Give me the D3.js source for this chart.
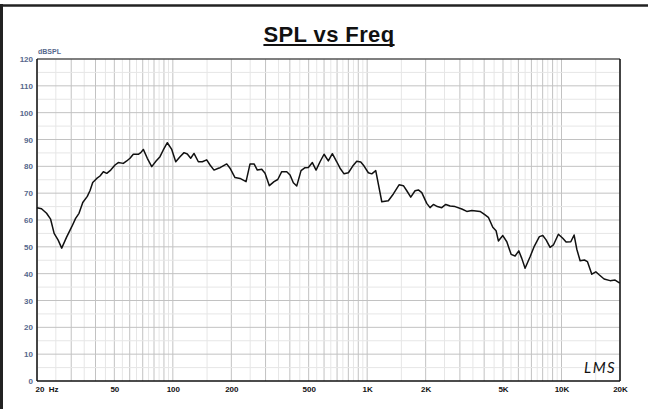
<!DOCTYPE html>
<html>
<head>
<meta charset="utf-8">
<script src="https://cdn.jsdelivr.net/npm/d3@7"></script>
<style>
  body { margin: 0; background: #fff; }
  svg { display: block; }
  .ylab text { font: bold 8px "Liberation Sans", Arial, sans-serif; fill: #56688c; }
  .xlab text { font: bold 8px "Liberation Sans", Arial, sans-serif; fill: #111; }
</style>
</head>
<body>
<svg width="648" height="409"></svg>
<script>
// measured response, freq in Hz
const freqs = [20, 21.1, 22.4, 23.5, 24.5, 25.7, 26.8, 28.4, 30.2, 31.6, 32.9, 34.4, 36.3, 37.5, 38.7,
  40.6, 42.2, 43.9, 45.7, 47.9, 50.4, 52.4, 55.6, 57.9, 60.2, 62.6, 66.4, 68.4, 70.5, 73.9, 77.9,
  82.0, 85.9, 89.3, 93.7, 98.7, 103.5, 108.9, 114.2, 118.7, 123.6, 128.5, 135.3, 141.8, 149.4,
  155.4, 162.9, 171.5, 175, 189.4, 196.9, 208.9, 221.7, 238.1, 249.6, 261.8, 272.2, 286.8, 298.2,
  313.8, 331.8, 346.7, 363.4, 385.6, 401, 417, 434.2, 456.8, 479, 498.2, 522.4, 545.8, 572.2, 600,
  631.2, 662, 697.4, 725.2, 760.4, 800.4, 843, 884, 927, 964, 1014, 1056, 1107, 1189, 1285, 1364,
  1459, 1536, 1599, 1676, 1764, 1834, 1910, 2026, 2106, 2192, 2298, 2420, 2538, 2672, 2834, 3068,
  3256, 3456, 3810, 3996, 4204, 4430, 4606, 4734, 4988, 5230, 5504, 5770, 6028, 6246, 6496, 6892,
  7252, 7694, 8012, 8332, 8736, 9086, 9638, 10152, 10560, 11166, 11612, 11990, 12468, 13118, 13592,
  14320, 15016, 15668, 16566, 17784, 18872, 19858, 20000];
const spl = [64.6, 64.2, 62.5, 60.3, 55, 52.5, 49.5, 53.6, 57.5, 60.6, 62.5, 66.5, 68.8, 71, 74,
  75.5, 76.4, 78, 77.4, 78.6, 80.5, 81.4, 81.1, 82, 83, 84.5, 84.5, 85.1, 86.3, 83, 79.9,
  82, 83.6, 86.1, 88.8, 86.3, 81.7, 83.6, 85.1, 84.6, 83, 84.8, 81.7, 81.7, 82.4,
  80.5, 78.6, 79.3, 79.5, 80.9, 79.3, 75.8, 75.5, 74.3, 80.9, 80.9, 78.6, 78.9, 77.4,
  72.8, 74.3, 75.1, 78, 78, 76.8, 73.9, 72.7, 78.4, 79.5, 79.6, 81.4, 78.6, 81.7, 84.5,
  82, 84.7, 81.7, 79.3, 77.2, 77.6, 80.1, 81.9, 81.6, 80.1, 77.6, 77.2, 78.4, 66.8, 67.2, 69.7,
  73.1, 72.8, 70.9, 68.5, 70.9, 71.2, 70.2, 66.2, 64.6, 65.8, 65, 64.6, 65.8, 65.2, 65, 64.1,
  63.2, 63.5, 63.2, 62.2, 61, 57.3, 56, 52.2, 54.2, 51.9, 47.2, 46.6, 48.5, 45.7, 42, 46.3,
  50.3, 53.8, 54.2, 52.6, 49.8, 50.7, 54.7, 53.2, 51.8, 51.9, 54.4, 49.1, 44.8, 45.1, 44.5,
  39.8, 40.7, 39.5, 38, 37.4, 37.6, 36.6, 36.6];

const yTicks = d3.range(0, 121, 10);
const xTicks = [20, 50, 100, 200, 500, 1000, 2000, 5000, 10000, 20000];
const xTickLabels = ["20  Hz", "50", "100", "200", "500", "1K", "2K", "5K", "10K", "20K"];

const svg = d3.select('svg');
const margin = { top: 59, right: 28, bottom: 28, left: 37 };
const width = +svg.attr('width');
const height = +svg.attr('height');
const innerWidth = width - margin.left - margin.right;
const innerHeight = height - margin.top - margin.bottom;

const xScale = d3.scaleLog().domain([20, 20000]).range([0, innerWidth]);
const yScale = d3.scaleLinear().domain([0, 120]).range([innerHeight, 0]);

// outer frame (top and left edges)
svg.append('line').attr('x1', 0).attr('x2', width).attr('y1', 5.5).attr('y2', 5.5)
  .attr('stroke', '#222').attr('stroke-width', 2.5);
svg.append('line').attr('x1', 1.5).attr('x2', 1.5).attr('y1', 4).attr('y2', height)
  .attr('stroke', '#222').attr('stroke-width', 3);

// title
const title = svg.append('text')
  .attr('x', 329).attr('y', 42)
  .attr('text-anchor', 'middle')
  .style('font', 'bold 22px "Liberation Sans", Arial, sans-serif')
  .style('letter-spacing', '0.4px')
  .attr('fill', '#111')
  .text('SPL vs Freq');
const tw = title.node().getComputedTextLength();
svg.append('line').attr('x1', 329 - tw / 2).attr('x2', 329 + tw / 2)
  .attr('y1', 45).attr('y2', 45).attr('stroke', '#111').attr('stroke-width', 2);

const g = svg.append('g').attr('transform', `translate(${margin.left},${margin.top})`);

// grid: vertical
const minorX = [], majorX = [];
[10, 100, 1000, 10000].forEach(dec => {
  for (let n = 1; n <= 9; n++) {
    if (n * dec >= 20 && n * dec <= 20000) majorX.push(n * dec);
    const h = (n + 0.5) * dec;
    if (h > 20 && h < 20000) minorX.push(h);
  }
});
g.selectAll('.vminor').data(minorX).enter().append('line')
  .attr('x1', d => xScale(d)).attr('x2', d => xScale(d))
  .attr('y1', 0).attr('y2', innerHeight)
  .attr('stroke', '#e6e6e6').attr('stroke-width', 1);
g.selectAll('.vmajor').data(majorX).enter().append('line')
  .attr('x1', d => xScale(d)).attr('x2', d => xScale(d))
  .attr('y1', 0).attr('y2', innerHeight)
  .attr('stroke', '#c2c2c2').attr('stroke-width', 1);

// grid: horizontal
const hMinor = d3.range(5, 120, 10);
g.selectAll('.hminor').data(hMinor).enter().append('line')
  .attr('x1', 0).attr('x2', innerWidth)
  .attr('y1', d => yScale(d)).attr('y2', d => yScale(d))
  .attr('stroke', '#e6e6e6').attr('stroke-width', 1);
g.selectAll('.hmajor').data(yTicks.filter(d => d > 0 && d < 120)).enter().append('line')
  .attr('x1', 0).attr('x2', innerWidth)
  .attr('y1', d => yScale(d)).attr('y2', d => yScale(d))
  .attr('stroke', '#c2c2c2').attr('stroke-width', 1);

// plot frame
g.append('line').attr('x1', 0).attr('x2', innerWidth).attr('y1', 0).attr('y2', 0)
  .attr('stroke', '#555').attr('stroke-width', 1.5);
g.append('line').attr('x1', innerWidth).attr('x2', innerWidth).attr('y1', 0).attr('y2', innerHeight)
  .attr('stroke', '#111').attr('stroke-width', 1.5);
g.append('line').attr('x1', 0).attr('x2', innerWidth).attr('y1', innerHeight).attr('y2', innerHeight)
  .attr('stroke', '#111').attr('stroke-width', 1.5);
g.append('line').attr('x1', 0).attr('x2', 0).attr('y1', 0).attr('y2', innerHeight)
  .attr('stroke', '#111').attr('stroke-width', 1.5);

// axes
const yAxis = d3.axisLeft(yScale).tickValues(yTicks).tickSize(0).tickPadding(4);
g.append('g').attr('class', 'ylab').call(yAxis).call(s => s.select('.domain').remove());

const xAxis = d3.axisBottom(xScale).tickValues(xTicks).tickSize(0).tickPadding(5)
  .tickFormat((d, i) => xTickLabels[i]);
g.append('g').attr('class', 'xlab').attr('transform', `translate(0,${innerHeight})`)
  .call(xAxis).call(s => s.select('.domain').remove())
  .call(s => s.selectAll('.tick').filter(d => d === 20).select('text')
    .attr('text-anchor', 'start').attr('x', -2).style('white-space', 'pre'));

// y unit
g.append('text').attr('x', 1).attr('y', -5)
  .style('font', 'bold 7px "Liberation Sans", Arial, sans-serif')
  .attr('fill', '#56688c').text('dBSPL');

// curve
const data = freqs.map((f, i) => ({ f, v: spl[i] }));
const line = d3.line().x(d => xScale(d.f)).y(d => yScale(d.v)).curve(d3.curveLinear);
g.append('path').datum(data).attr('d', line)
  .attr('fill', 'none').attr('stroke', '#111').attr('stroke-width', 1.5)
  .attr('stroke-linejoin', 'round');

// LMS mark
g.append('text').attr('x', innerWidth - 36).attr('y', innerHeight - 8)
  .style('font', 'italic 400 15px Lato, "DejaVu Sans", sans-serif')
  .style('letter-spacing', '1.5px')
  .attr('fill', '#111')
  .text('LMS');
</script>
</body>
</html>
